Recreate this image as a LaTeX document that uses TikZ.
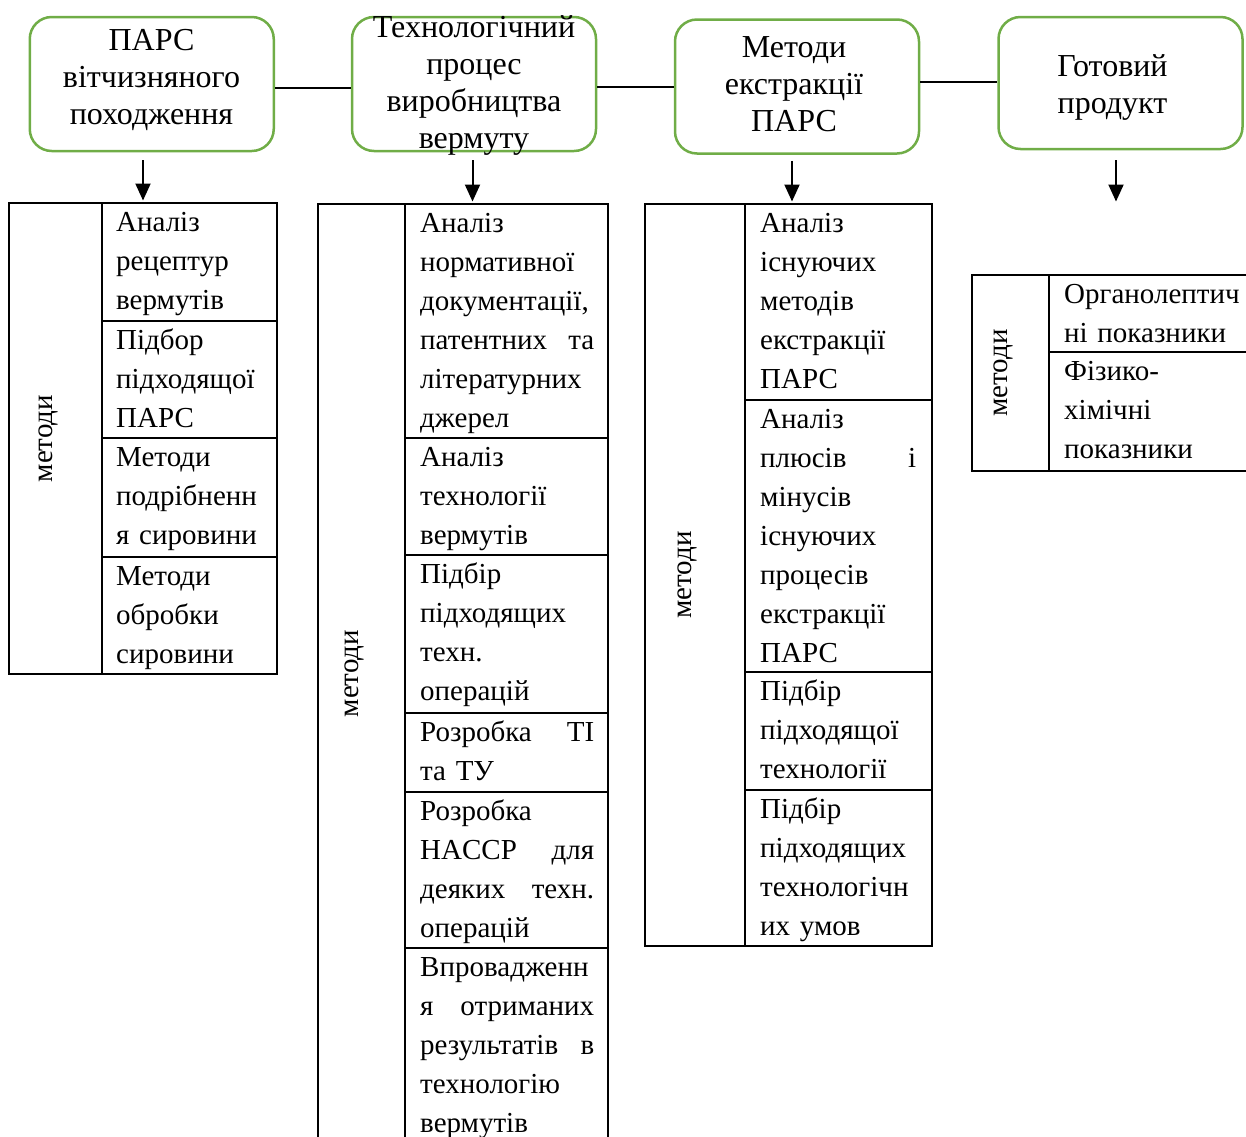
\documentclass[tikz,border=0pt]{standalone}
\usepackage{fontspec}
\setmainfont{Liberation Serif}
\usetikzlibrary{arrows.meta,positioning}
\definecolor{stagegreen}{HTML}{70AD47}

\begin{document}
\begin{tikzpicture}[x=1pt,y=-1pt,
  stage/.style={draw=stagegreen,line width=2.5pt,rounded corners=22pt,minimum width=244pt,minimum height=134pt,inner sep=0pt},
  stagetext/.style={font=\fontsize{32}{37}\selectfont,text width=250pt,align=center,anchor=base,inner sep=0pt},
  cell/.style={font=\fontsize{29}{39}\selectfont,align=left,anchor=base west,inner sep=0pt},
  side/.style={font=\fontsize{29}{39}\selectfont,rotate=90,anchor=base,inner sep=0pt},
  link/.style={line width=1.5pt},
  rule/.style={line width=2pt},
  arr/.style={line width=2pt,-{Triangle[length=17pt,width=15pt]},shorten <=8pt,shorten >=2.5pt}]
  \useasboundingbox (0,0) rectangle (1246,1136);
  \clip (0,0) rectangle (1246,1136);

  % Stages
  \node[stage] (b1) at (151.75,84) {};
  \node[stage] (b2) at (474,84) {};
  \node[stage] (b3) at (797,86.5) {};
  \node[stage,minimum height=132pt] (b4) at (1120.5,83) {};
  \node[stagetext] (b1t) at (151.5,50) {ПАРС\\вітчизняного\\походження};
  \node[stagetext] (b2t) at (474,37) {Технологічний\\процес\\виробництва\\вермуту};
  \node[stagetext] (b3t) at (794,57) {Методи\\екстракції\\ПАРС};
  \node[stagetext] (b4t) at (1112.5,76) {Готовий\\продукт};
  \draw[link] ([yshift=-4pt]b1.east) -- ([yshift=-4pt]b1.east -| b2.west);
  \draw[link] ([yshift=-3pt]b2.east) -- ([yshift=-3pt]b2.east -| b3.west);
  \draw[link] ([yshift=1pt]b4.west -| b3.east) -- ([yshift=1pt]b4.west);

  % Arrows down to the tables
  \coordinate (t1) at (143,203);
  \coordinate (t2) at (472.5,204);
  \coordinate (t3) at (792,204);
  \coordinate (t4) at (1116,204);
  \draw[arr] (b1.south -| t1) -- (t1);
  \draw[arr] (b2.south -| t2) -- (t2);
  \draw[arr,shorten <=6pt] (b3.south -| t3) -- (t3);
  \draw[arr,shorten <=10pt] (b4.south -| t4) -- (t4);

  % Table 1
  \draw[rule] (9,203) rectangle (277,674);
  \draw[rule] (102,203) -- (102,674);
  \foreach \y in {321,438,557} \draw[rule] (102,\y) -- (277,\y);
  \node[side] (m1) at (52,438.5) {методи};
  \node[cell,text width=146pt] (c11) at (116,231) {Аналіз\\рецептур\\вермутів};
  \node[cell,text width=146pt] (c12) at (116,349) {Підбор\\підходящої\\ПАРС};
  \node[cell,text width=146pt] (c13) at (116,466) {Методи\\подрібненн\\я сировини};
  \node[cell,text width=146pt] (c14) at (116,585) {Методи\\обробки\\сировини};

  % Table 2
  \draw[rule] (318,204) rectangle (608,1143);
  \draw[rule] (405,204) -- (405,1143);
  \foreach \y in {438,555,713,792,948} \draw[rule] (405,\y) -- (608,\y);
  \node[side] (m2) at (358,673.5) {методи};
  \node[cell,text width=174pt] (c21) at (420,232) {Аналіз\\нормативної\\документації,\\патентних\hfill та\\літературних\\джерел};
  \node[cell,text width=174pt] (c22) at (420,466) {Аналіз\\технології\\вермутів};
  \node[cell,text width=174pt] (c23) at (420,583) {Підбір\\підходящих\\техн.\\операцій};
  \node[cell,text width=174pt] (c24) at (420,741) {Розробка\hfill ТІ\\та ТУ};
  \node[cell,text width=174pt] (c25) at (420,820) {Розробка\\HACCP\hfill для\\деяких\hfill техн.\\операцій};
  \node[cell,text width=174pt] (c26) at (420,976) {Впровадженн\\я\hfill отриманих\\результатів\hfill в\\технологію\\вермутів};

  % Table 3
  \draw[rule] (644.5,204) rectangle (932,946);
  \draw[rule] (745,204) -- (745,946);
  \foreach \y in {400,672,790} \draw[rule] (745,\y) -- (932,\y);
  \node[side] (m3) at (691,575) {методи};
  \node[cell,text width=156pt] (c31) at (760,232) {Аналіз\\існуючих\\методів\\екстракції\\ПАРС};
  \node[cell,text width=156pt] (c32) at (760,428) {Аналіз\\плюсів\hfill і\\мінусів\\існуючих\\процесів\\екстракції\\ПАРС};
  \node[cell,text width=156pt] (c33) at (760,700) {Підбір\\підходящої\\технології};
  \node[cell,text width=156pt] (c34) at (760,818) {Підбір\\підходящих\\технологічн\\их умов};

  % Table 4
  \draw[rule] (972,275) rectangle (1262,471);
  \draw[rule] (1049,275) -- (1049,471);
  \draw[rule] (1049,352) -- (1262,352);
  \node[side] (m4) at (1007,373) {методи};
  \node[cell,text width=190pt] (c41) at (1064,303) {Органолептич\\ні показники};
  \node[cell,text width=190pt] (c42) at (1064,380) {Фізико-\\хімічні\\показники};
\end{tikzpicture}
\end{document}
